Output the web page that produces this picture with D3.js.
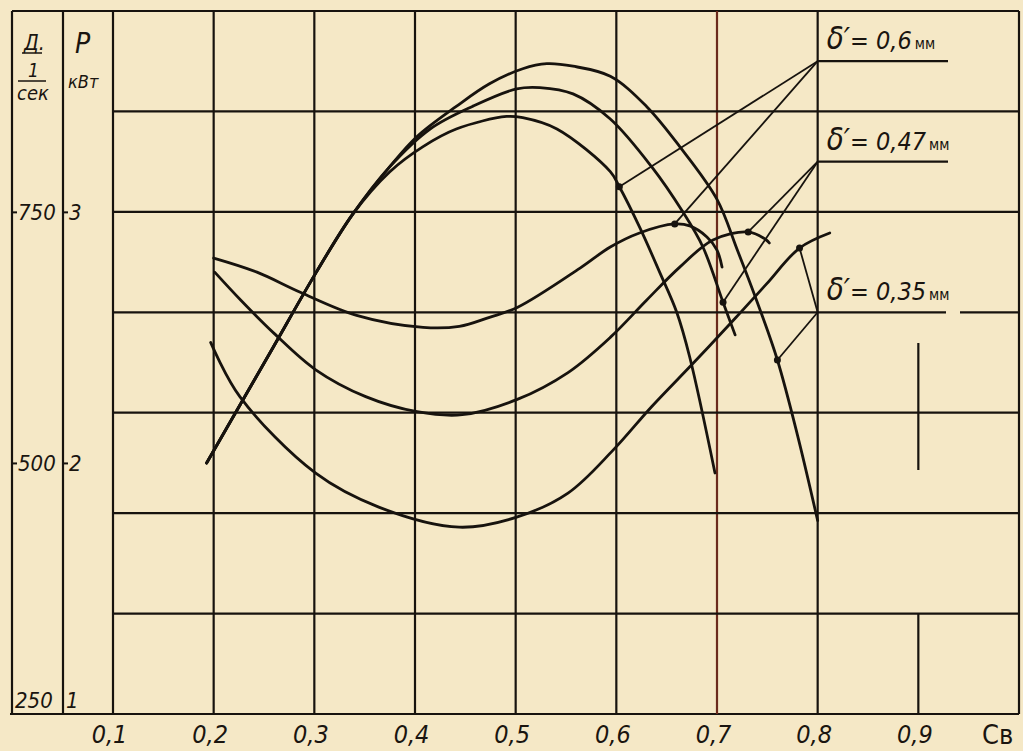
<!DOCTYPE html>
<html>
<head>
<meta charset="utf-8">
<script src="https://cdn.jsdelivr.net/npm/d3@7"></script>
<style>
body { margin: 0; background: #f5e8c6; }
svg { display: block; }
.hand { font-family: "Liberation Sans Narrow", "DejaVu Sans Condensed", sans-serif; font-style: italic; fill: #1a1510; }
</style>
</head>
<body>
<svg id="chart" width="1023" height="751"></svg>
<script>
// ---- data ----
var cbTicks = [0.1, 0.2, 0.3, 0.4, 0.5, 0.6, 0.7, 0.8, 0.9];
var dTicks = [250, 500, 750];          // Д, 1/сек
var pTicks = [1, 2, 3];                // P, кВт
var gridP = [1.4, 1.8, 2.2, 2.6, 3.0, 3.4];

// P (кВт) vs Cв
var p035 = [[0.193,2.00],[0.226,2.23],[0.259,2.46],[0.302,2.76],[0.338,2.99],[0.375,3.18],[0.402,3.30],
            [0.441,3.42],[0.474,3.51],[0.507,3.57],[0.531,3.59],[0.557,3.58],[0.594,3.54],[0.630,3.42],
            [0.663,3.26],[0.700,3.05],[0.720,2.85],[0.740,2.64],[0.760,2.41],[0.780,2.11],[0.800,1.77]];
var p047 = [[0.193,2.00],[0.226,2.23],[0.259,2.46],[0.302,2.76],[0.338,2.99],[0.375,3.18],[0.415,3.33],
            [0.457,3.42],[0.501,3.49],[0.524,3.495],[0.557,3.47],[0.594,3.37],[0.635,3.18],[0.666,3.00],
            [0.686,2.86],[0.706,2.64],[0.718,2.51]];
var p06  = [[0.193,2.00],[0.226,2.23],[0.259,2.46],[0.302,2.76],[0.338,2.99],[0.375,3.16],[0.408,3.26],
            [0.441,3.33],[0.491,3.38],[0.507,3.375],[0.541,3.33],[0.594,3.16],[0.603,3.10],[0.623,2.94],
            [0.643,2.76],[0.660,2.60],[0.673,2.42],[0.698,1.96]];

// Д (1/сек) vs Cв
var d06  = [[0.200,704],[0.243,690],[0.286,670],[0.342,647],[0.408,635],[0.444,636],[0.474,645],[0.502,655],
            [0.564,694],[0.594,715],[0.623,729],[0.658,738],[0.673,736],[0.690,725],[0.700,712],[0.705,695]];
var d047 = [[0.201,690],[0.227,662],[0.260,629],[0.301,593],[0.351,566],[0.402,551],[0.447,548],[0.501,563],
            [0.552,590],[0.594,625],[0.630,662],[0.663,695],[0.696,722],[0.731,730],[0.749,722],[0.752,719]];
var d035 = [[0.197,620],[0.226,566],[0.301,490],[0.364,456],[0.444,436],[0.501,446],[0.552,470],[0.597,513],
            [0.635,556],[0.677,600],[0.719,645],[0.749,678],[0.782,714],[0.812,729]];

var deltaNames = ["0,6", "0,47", "0,35"];
var labelP = [3.6, 3.2, 2.6];               // corner of each label, in P units at Cв = 0.8
var markP = [[0.603,3.10],[0.706,2.64],[0.760,2.41]];
var markD = [[0.658,738],[0.731,730],[0.782,714]];

// ---- layout ----
var ink = "#17130e";
var svg = d3.select("#chart");
var x = d3.scaleLinear().domain([0.1, 1.0]).range([113, 1019]);
var yP = d3.scaleLinear().domain([1, 3.8]).range([714, 11]);
var yD = d3.scaleLinear().domain([250, 950]).range([714, 11]);
var yTop = yP(3.8), yBottom = yP(1);

svg.append("rect").attr("width", 1023).attr("height", 751).attr("fill", "#f5e8c6");

var grid = svg.append("g").attr("stroke", ink).attr("stroke-width", 2.2).attr("fill", "none");

// border and the two axis columns
grid.append("line").attr("x1", 12).attr("x2", 1019).attr("y1", yTop).attr("y2", yTop);
grid.append("line").attr("x1", 10).attr("x2", 1019).attr("y1", yBottom).attr("y2", yBottom);
[12, 63].forEach(function(px) {
    grid.append("line").attr("x1", px).attr("x2", px).attr("y1", yTop).attr("y2", yBottom);
});
grid.append("line").attr("x1", x(1.0)).attr("x2", x(1.0)).attr("y1", yTop).attr("y2", yBottom);

// vertical grid
grid.selectAll(".vg")
  .data(cbTicks.filter(function(d) { return d < 0.85; }))
  .enter()
  .append("line")
    .attr("x1", function(d) { return x(d); })
    .attr("x2", function(d) { return x(d); })
    .attr("y1", yTop)
    .attr("y2", yBottom)
    .attr("stroke", function(d) { return d == 0.7 ? "#6b2a1c" : ink; });
// 0.9 line only partly drawn on the sheet
grid.append("line").attr("x1", x(0.9)).attr("x2", x(0.9)).attr("y1", 343).attr("y2", 470);
grid.append("line").attr("x1", x(0.9)).attr("x2", x(0.9)).attr("y1", yP(1.4)).attr("y2", yBottom);

// horizontal grid
gridP.forEach(function(p) {
    if (p == 2.6) {
        grid.append("line").attr("x1", x(0.1)).attr("x2", 946).attr("y1", yP(p)).attr("y2", yP(p));
        grid.append("line").attr("x1", 960).attr("x2", x(1.0)).attr("y1", yP(p)).attr("y2", yP(p));
    } else {
        grid.append("line").attr("x1", x(0.1)).attr("x2", x(1.0)).attr("y1", yP(p)).attr("y2", yP(p));
    }
});

// ---- axes ----
var xAxis = d3.axisBottom(x)
    .tickValues(cbTicks)
    .tickSize(0)
    .tickFormat(function(d) { return d3.format(".1f")(d).replace(".", ","); });
var gx = svg.append("g").attr("transform", "translate(0," + yBottom + ")").call(xAxis);
gx.select(".domain").remove();
gx.selectAll("text")
    .attr("class", "hand")
    .attr("dy", null)
    .attr("y", 29)
    .attr("x", -4)
    .style("font-size", "25px");

function sideAxis(scale, ticks, px) {
    var a = d3.axisRight(scale).tickValues(ticks).tickSize(5).tickPadding(1).tickFormat(d3.format("d"));
    var g = svg.append("g").attr("transform", "translate(" + px + ",0)").call(a);
    g.select(".domain").remove();
    g.selectAll("line").attr("stroke", ink).attr("stroke-width", 2);
    g.selectAll("text").attr("class", "hand").style("font-size", "22px").attr("dy", "0.34em");
    g.selectAll(".tick").filter(function(d, i) { return i == 0; })
      .each(function() {
          d3.select(this).select("line").remove();
          d3.select(this).select("text").attr("x", 3).attr("y", -14);
      });
    return g;
}
sideAxis(yD, dTicks, 12);
sideAxis(yP, pTicks, 63);

// axis titles
var t = svg.append("g").attr("class", "hand");
t.append("text").attr("x", 24).attr("y", 50).style("font-size", "21px").text("Д.");
svg.append("line").attr("x1", 22).attr("x2", 42).attr("y1", 53).attr("y2", 53).attr("stroke", ink).attr("stroke-width", 1.5);
t.append("text").attr("x", 28).attr("y", 77).style("font-size", "19px").text("1");
svg.append("line").attr("x1", 18).attr("x2", 46).attr("y1", 81).attr("y2", 81).attr("stroke", ink).attr("stroke-width", 1.5);
t.append("text").attr("x", 17).attr("y", 100).style("font-size", "20px").text("сек");
t.append("text").attr("x", 75).attr("y", 53).style("font-size", "28px").text("Р");
t.append("text").attr("x", 68).attr("y", 88).style("font-size", "18px").text("кВт");
t.append("text").attr("x", 982).attr("y", 744).style("font-size", "27px").style("font-style", "normal").text("Св");

// ---- curves ----
var lineP = d3.line()
    .x(function(d) { return x(d[0]); })
    .y(function(d) { return yP(d[1]); })
    .curve(d3.curveCatmullRom.alpha(0.5));
var lineD = d3.line()
    .x(function(d) { return x(d[0]); })
    .y(function(d) { return yD(d[1]); })
    .curve(d3.curveCatmullRom.alpha(0.5));

var curves = svg.append("g").attr("fill", "none").attr("stroke", ink)
    .attr("stroke-width", 2.8).attr("stroke-linecap", "round");
[p035, p047, p06].forEach(function(s) { curves.append("path").attr("d", lineP(s)); });
[d06, d047, d035].forEach(function(s) { curves.append("path").attr("d", lineD(s)); });

// ---- leaders, markers and δ' labels ----
var lead = svg.append("g").attr("stroke", ink).attr("stroke-width", 1.8).attr("fill", "none");
deltaNames.forEach(function(name, i) {
    var cx = x(0.8), cy = yP(labelP[i]);
    lead.append("line").attr("x1", cx).attr("y1", cy)
        .attr("x2", x(markP[i][0])).attr("y2", yP(markP[i][1]));
    lead.append("line").attr("x1", cx).attr("y1", cy)
        .attr("x2", x(markD[i][0])).attr("y2", yD(markD[i][1]));
    if (i < 2) {
        lead.append("line").attr("x1", cx).attr("x2", 948).attr("y1", cy).attr("y2", cy)
            .attr("stroke-width", 2.2);
    }
    svg.append("circle").attr("cx", x(markP[i][0])).attr("cy", yP(markP[i][1])).attr("r", 3.5).attr("fill", ink);
    svg.append("circle").attr("cx", x(markD[i][0])).attr("cy", yD(markD[i][1])).attr("r", 3.5).attr("fill", ink);

    var txt = svg.append("text").attr("class", "hand").attr("x", cx + 9).attr("y", cy - 12);
    txt.append("tspan").style("font-size", "31px").text("δ′");
    txt.append("tspan").style("font-size", "25px").text("= " + name);
    txt.append("tspan").style("font-size", "15px").style("font-style", "normal").attr("dx", 3).text("мм");
});
</script>
</body>
</html>
